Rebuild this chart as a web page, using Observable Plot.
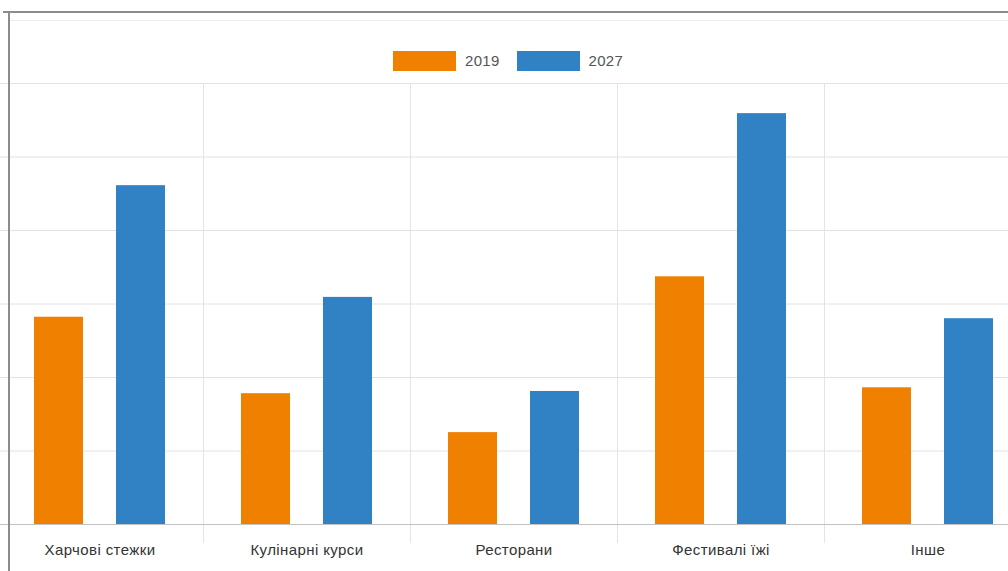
<!DOCTYPE html>
<html><head><meta charset="utf-8">
<script src="https://cdn.jsdelivr.net/npm/d3@7"></script>
<script src="https://cdn.jsdelivr.net/npm/@observablehq/plot@0.6"></script>
<style>
html,body{margin:0;padding:0;width:1008px;height:571px;overflow:hidden;background:#fff;font-family:"Liberation Sans",Arial,sans-serif;}
#topline{position:absolute;left:3px;top:11px;width:1010px;height:2px;background:#8c8c8c;}
#leftline{position:absolute;left:8px;top:11px;width:2px;height:570px;background:#8c8c8c;}
#faint{position:absolute;left:10px;top:20px;width:1000px;height:1px;background:#ededed;}
#legend{position:absolute;top:0;left:0;width:1008px;height:80px;}
#legend .items{position:absolute;left:393px;top:51px;display:flex;align-items:center;height:20px;}
#legend .sw{width:63px;height:20px;margin-right:9px;}
#legend .lt{font-size:15px;color:#555;margin-right:17px;line-height:20px;letter-spacing:0.3px;}
#chart{position:absolute;top:80px;left:-6px;width:1038px;height:491px;}
#chart svg{max-width:none !important;}
</style>
</head><body>
<div id="legend"><div class="items"></div></div>
<div id="chart"></div>
<div id="faint"></div>
<div id="topline"></div>
<div id="leftline"></div>
<script>
const categories = ["Харчові стежки", "Кулінарні курси", "Ресторани", "Фестивалі їжі", "Інше"];
const years = ["2019", "2027"];
const values2019 = [2.82, 1.78, 1.25, 3.37, 1.86];
const values2027 = [4.61, 3.09, 1.81, 5.59, 2.80];
const colors = ["#f08000", "#3182c4"];
const yTicks = [0, 1, 2, 3, 4, 5, 6];

const data = categories.flatMap((c, i) => [
  {category: c, year: years[0], value: values2019[i]},
  {category: c, year: years[1], value: values2027[i]}
]);

// legend (HTML, above the SVG)
const items = document.querySelector("#legend .items");
years.forEach((y, i) => {
  const sw = document.createElement("div");
  sw.className = "sw";
  sw.style.background = colors[i];
  const t = document.createElement("div");
  t.className = "lt";
  t.textContent = y;
  items.appendChild(sw);
  items.appendChild(t);
});

const chart = Plot.plot({
  width: 1038,
  height: 491,
  marginTop: 3,
  marginBottom: 29,
  marginLeft: 0,
  marginRight: 0,
  fx: {domain: categories, padding: 0, label: null, axis: "bottom", tickSize: 0, tickPadding: 2},
  x: {domain: years, paddingInner: 0.4, paddingOuter: 0.46, axis: null},
  y: {domain: [0, 6], insetBottom: 18, axis: null},
  color: {domain: years, range: colors},
  style: {fontFamily: "'Liberation Sans', Arial, sans-serif", fontSize: "15px", color: "#333", background: "transparent", letterSpacing: "0.4px", maxWidth: "none"},
  marks: [
    Plot.gridY(yTicks, {stroke: "#e2e2e2", strokeOpacity: 1}),
    Plot.frame({anchor: "left", stroke: "#e4e4e4"}),
    Plot.barY(data, {fx: "category", x: "year", y: "value", fill: "year"}),
    Plot.ruleY([0], {stroke: "#c2c2c2"})
  ]
});
document.getElementById("chart").appendChild(chart);
</script>
</body></html>
